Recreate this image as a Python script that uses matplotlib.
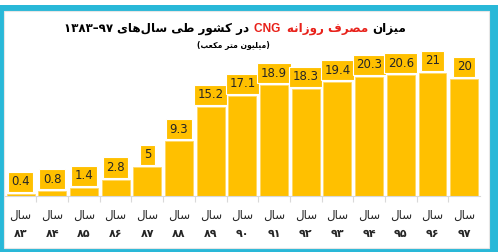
# -*- coding: utf-8 -*-
"""
Daily CNG consumption in Iran, 1383-1397 (million cubic metres)
"""

import matplotlib
matplotlib.use('Agg')
import matplotlib.pyplot as plt
from matplotlib.patches import Rectangle
from matplotlib.transforms import blended_transform_factory

# data
years = ['۸۳', '۸۴', '۸۵', '۸۶', '۸۷', '۸۸', '۸۹', '۹۰',
         '۹۱', '۹۲', '۹۳', '۹۴', '۹۵', '۹۶', '۹۷']
values = [0.4, 0.8, 1.4, 2.8, 5, 9.3, 15.2, 17.1,
          18.9, 18.3, 19.4, 20.3, 20.6, 21, 20]
year_word = 'سال'
title_black_1 = 'میزان'
title_red = 'مصرف روزانه'
title_latin = 'CNG'
title_black_2 = 'در کشور طی سال\u200cهای'
title_span = '۱۳۸۳–۹۷'
unit_text = 'میلیون متر مکعب'

BAR = '#FFC000'
RED = '#E8211A'
CYAN = '#29B8D8'
TXT = '#262626'

# matplotlib has no arabic shaping, so pick the presentation forms by hand
FORMS = {
    'ا': ('\uFE8D', '\uFE8E', None, None),
    'ب': ('\uFE8F', '\uFE90', '\uFE91', '\uFE92'),
    'ت': ('\uFE95', '\uFE96', '\uFE97', '\uFE98'),
    'د': ('\uFEA9', '\uFEAA', None, None),
    'ر': ('\uFEAD', '\uFEAE', None, None),
    'ز': ('\uFEAF', '\uFEB0', None, None),
    'س': ('\uFEB1', '\uFEB2', '\uFEB3', '\uFEB4'),
    'ش': ('\uFEB5', '\uFEB6', '\uFEB7', '\uFEB8'),
    'ص': ('\uFEB9', '\uFEBA', '\uFEBB', '\uFEBC'),
    'ط': ('\uFEC1', '\uFEC2', '\uFEC3', '\uFEC4'),
    'ع': ('\uFEC9', '\uFECA', '\uFECB', '\uFECC'),
    'ف': ('\uFED1', '\uFED2', '\uFED3', '\uFED4'),
    'ک': ('\uFB8E', '\uFB8F', '\uFB90', '\uFB91'),
    'ل': ('\uFEDD', '\uFEDE', '\uFEDF', '\uFEE0'),
    'م': ('\uFEE1', '\uFEE2', '\uFEE3', '\uFEE4'),
    'ن': ('\uFEE5', '\uFEE6', '\uFEE7', '\uFEE8'),
    'ه': ('\uFEE9', '\uFEEA', '\uFEEB', '\uFEEC'),
    'و': ('\uFEED', '\uFEEE', None, None),
    'ی': ('\uFBFC', '\uFBFD', '\uFBFE', '\uFBFF'),
}


def shape(txt):
    out = []
    for i, c in enumerate(txt):
        if c == '\u200c':
            continue
        if c not in FORMS:
            out.append(c)
            continue
        p = txt[i - 1] if i > 0 else ''
        n = txt[i + 1] if i + 1 < len(txt) else ''
        iso, fin, ini, med = FORMS[c]
        jp = p in FORMS and FORMS[p][2] is not None
        jn = ini is not None and n in FORMS
        if jp and jn:
            out.append(med)
        elif jp:
            out.append(fin)
        elif jn:
            out.append(ini)
        else:
            out.append(iso)
    return ''.join(reversed(out))


W, H = 500, 252
fig = plt.figure(figsize=(W / 100, H / 100), dpi=100)

# cyan frame
fig.patches.append(Rectangle((0, 0), 498 / W, 247 / H, transform=fig.transFigure,
                             fc=CYAN, ec='none', zorder=-10))
fig.patches.append(Rectangle((4 / W, 4 / H), 485 / W, 237 / H, transform=fig.transFigure,
                             fc='white', ec='#e6e6e6', lw=0.8, zorder=-9))

ax = fig.add_axes([4.75 / W, 56 / H, 475.25 / W, 146 / H])
ax.patch.set_visible(False)

x = list(range(len(values)))
ax.bar(x, values, width=0.88, color=BAR, edgecolor='#FFD966', linewidth=0.6)
ax.set_xlim(-0.5, len(values) - 0.5)
ax.set_ylim(0, 24.9)

for i, v in zip(x, values):
    ax.annotate('{:g}'.format(v), (i, v), xytext=(0, 4), textcoords='offset points',
                ha='center', va='bottom', fontsize=8.5, color=TXT,
                bbox=dict(boxstyle='square,pad=0.3', fc=BAR, ec='white', lw=0.8))

for s in ['top', 'right', 'left']:
    ax.spines[s].set_visible(False)
ax.spines['bottom'].set_color('#d9d9d9')
ax.set_yticks([])
ax.set_xticks([i + 0.5 for i in x[:-1]])
ax.set_xticklabels([])
ax.tick_params(axis='x', length=4, color='#d9d9d9')

trans = blended_transform_factory(ax.transData, fig.transFigure)
for i, y in zip(x, years):
    ax.text(i, 1 - 215 / H, shape(year_word), transform=trans, ha='center', va='center',
            fontsize=8.5, color=TXT)
    ax.text(i, 1 - 234 / H, y, transform=trans, ha='center', va='center',
            fontsize=8, fontweight='bold', color=TXT)


def text_row(pieces, xc, yb):
    r = fig.canvas.get_renderer()
    ts = []
    for s, c, fs, fam in pieces:
        ts.append(fig.text(0, yb, s, color=c, fontsize=fs, fontweight='bold',
                           family=fam, va='baseline'))
    ws = [t.get_window_extent(r).width for t in ts]
    xp = xc - sum(ws) / 2
    for t, w in zip(ts, ws):
        t.set_x(xp / W)
        xp += w


text_row([(title_span + ' ', 'black', 8.6, 'DejaVu Sans'),
          (shape(title_black_2) + ' ', 'black', 8.6, 'DejaVu Sans'),
          (title_latin + '  ', RED, 8.6, 'Liberation Sans'),
          (shape(title_red) + ' ', RED, 8.6, 'DejaVu Sans'),
          (shape(title_black_1), 'black', 8.6, 'DejaVu Sans')],
         235, 1 - 32 / H)

fig.text(233 / W, 1 - 46 / H, '(' + shape(unit_text) + ')', ha='center', va='center',
         fontsize=5.5, fontweight='bold', color='black')

plt.savefig('out.png', dpi=100)
plt.close()
